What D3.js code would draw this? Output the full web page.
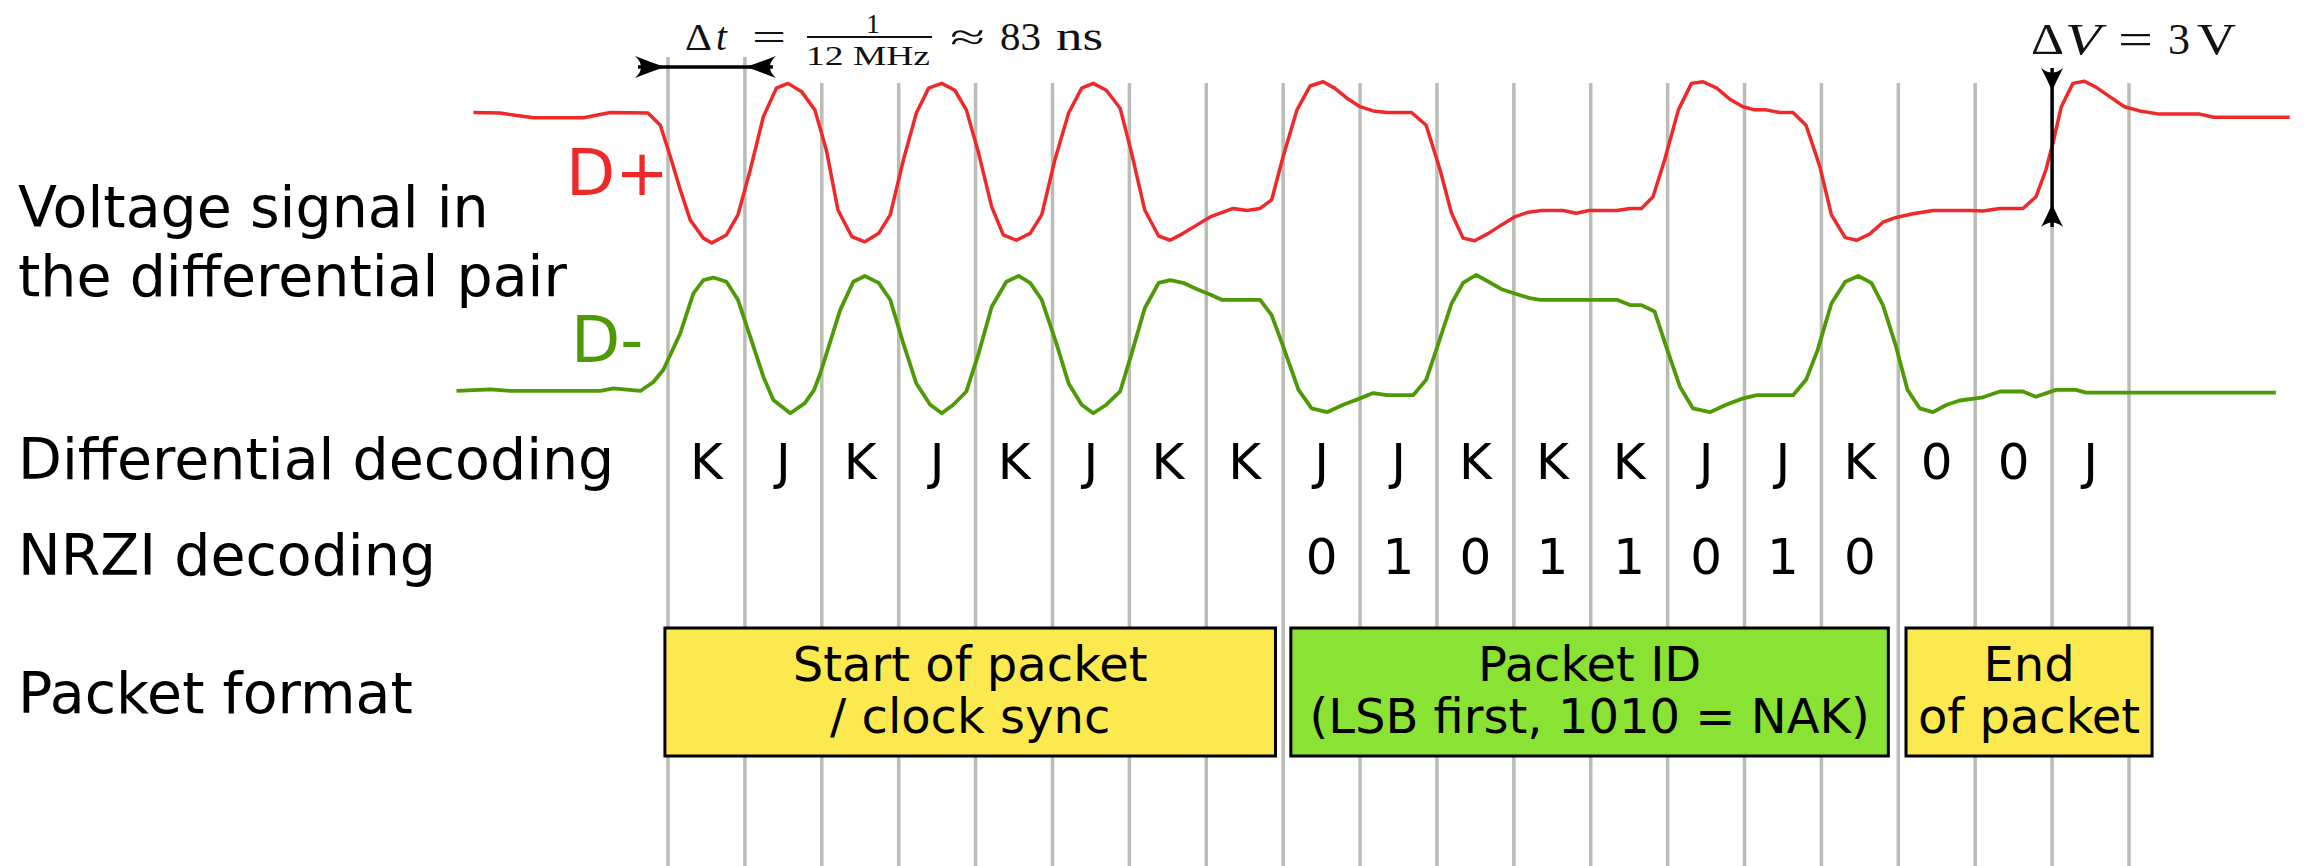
<!DOCTYPE html>
<html>
<head>
<meta charset="utf-8">
<script src="https://cdn.jsdelivr.net/npm/d3@7"></script>
<style>
  body { margin: 0; background: #fff; }
  text { font-family: "DejaVu Sans", sans-serif; }
  .tex text { font-family: "Liberation Serif", "DejaVu Serif", serif; }
</style>
</head>
<body>
<svg id="chart"></svg>
<script>
// ---- data (time in bit periods, voltage in volts) ----
var bitSymbols = ["K","J","K","J","K","J","K","K","J","J","K","K","K","J","J","K","0","0","J"];
var nrziFirstBit = 8;
var nrziBits = ["0","1","0","1","1","0","1","0"];

var fieldNames = ["Start of packet\n/ clock sync", "Packet ID\n(LSB first, 1010 = NAK)", "End\nof packet"];
var fieldFrom = [-0.04, 8.1, 16.1];
var fieldTo = [7.9, 15.87, 19.3];

var dplusTime = [-2.53,-2.18,-1.75,-1.10,-0.75,-0.26,-0.10,0.03,0.16,0.29,0.46,0.57,0.76,0.91,1.07,1.24,1.41,1.56,1.74,1.91,
  2.06,2.21,2.39,2.56,2.74,2.89,3.06,3.23,3.39,3.56,3.73,3.88,4.04,4.21,4.36,4.53,4.71,4.86,5.03,5.21,5.38,5.53,5.70,5.88,
  6.03,6.20,6.38,6.53,6.70,6.88,7.05,7.35,7.53,7.70,7.85,8.00,8.18,8.35,8.52,8.67,8.83,9.00,9.17,9.35,9.67,9.86,
  10.04,10.19,10.34,10.49,10.67,10.84,11.01,11.19,11.36,11.64,11.81,11.98,12.34,12.51,12.66,12.81,12.96,13.14,13.31,13.46,
  13.64,13.81,13.98,14.13,14.28,14.46,14.63,14.80,14.98,15.13,15.31,15.46,15.63,15.80,15.97,16.19,16.45,16.93,17.10,17.32,
  17.62,17.79,17.92,18.01,18.12,18.27,18.42,18.57,18.74,18.94,19.14,19.40,19.92,20.10,21.09];
var dplusVolt = [2.16,2.15,2.06,2.06,2.16,2.15,1.92,1.33,0.70,0.13,-0.21,-0.30,-0.15,0.23,1.08,2.08,2.62,2.71,2.55,2.21,
  1.45,0.32,-0.18,-0.28,-0.12,0.23,1.26,2.15,2.62,2.71,2.58,2.21,1.39,0.38,-0.15,-0.25,-0.12,0.23,1.26,2.15,2.62,2.71,2.58,2.24,
  1.39,0.32,-0.17,-0.25,-0.12,0.04,0.19,0.35,0.31,0.35,0.51,1.33,2.21,2.66,2.74,2.62,2.43,2.27,2.19,2.16,2.16,1.92,
  1.08,0.26,-0.21,-0.26,-0.12,0.04,0.19,0.28,0.31,0.31,0.26,0.31,0.31,0.35,0.35,0.57,1.26,2.21,2.71,2.74,
  2.62,2.41,2.27,2.21,2.21,2.16,2.16,1.92,1.14,0.23,-0.20,-0.25,-0.13,0.09,0.18,0.25,0.31,0.31,0.30,0.35,
  0.35,0.57,1.08,1.58,2.27,2.71,2.75,2.64,2.47,2.27,2.19,2.13,2.13,2.07,2.07];

var dminusTime = [-2.75,-2.31,-2.05,-0.88,-0.71,-0.36,-0.19,-0.06,0.16,0.33,0.46,0.59,0.76,0.91,1.07,1.24,1.37,1.59,1.78,1.90,
  1.98,2.24,2.41,2.56,2.74,2.89,3.06,3.23,3.41,3.56,3.71,3.88,4.04,4.21,4.40,4.56,4.71,4.86,5.05,5.21,5.38,5.53,5.70,5.88,
  6.03,6.20,6.38,6.53,6.70,6.88,7.05,7.20,7.70,7.85,8.00,8.20,8.37,8.57,8.78,9.00,9.17,9.35,9.69,9.86,
  10.02,10.19,10.34,10.51,10.67,10.84,11.01,11.21,11.34,12.34,12.51,12.66,12.83,12.98,13.16,13.33,13.55,13.76,13.98,14.16,
  14.63,14.80,14.95,15.13,15.31,15.48,15.65,15.80,15.97,16.12,16.28,16.45,16.63,16.80,17.10,17.32,17.62,17.79,18.05,18.31,
  18.44,20.91];
var dminusVolt = [0.68,0.71,0.68,0.68,0.73,0.68,0.85,1.08,1.77,2.52,2.77,2.82,2.74,2.40,1.70,0.95,0.51,0.26,0.45,0.70,
  1.01,2.21,2.74,2.85,2.72,2.40,1.58,0.82,0.42,0.26,0.42,0.67,1.39,2.27,2.74,2.85,2.72,2.40,1.58,0.82,0.42,0.26,0.42,0.67,
  1.39,2.24,2.72,2.77,2.72,2.60,2.50,2.40,2.40,2.11,1.52,0.70,0.35,0.28,0.42,0.54,0.64,0.60,0.60,0.89,
  1.58,2.33,2.72,2.87,2.74,2.60,2.52,2.43,2.40,2.40,2.30,2.30,2.18,1.52,0.76,0.35,0.28,0.42,0.54,0.60,
  0.60,0.89,1.45,2.33,2.74,2.85,2.72,2.30,1.52,0.70,0.35,0.28,0.42,0.50,0.56,0.67,0.67,0.57,0.70,0.70,
  0.65,0.65];

var deltaV = 3;

// ---- drawing ----
var W = 2305, H = 866;
var red = "#ef2929", green = "#4e9a06", grid = "#babdb6";

var svg = d3.select("#chart").attr("width", W).attr("height", H);
svg.append("rect").attr("width", W).attr("height", H).attr("fill", "#fff");

var x = d3.scaleLinear().domain([0, 19]).range([668, 2129]);
var yPlus = d3.scaleLinear().domain([0, 3]).range([227, 68]);
var yMinus = d3.scaleLinear().domain([0, 3]).range([427, 268]);

/* bit boundaries */
svg.append("g").selectAll("line")
  .data(d3.range(20))
  .enter().append("line")
  .attr("x1", function(d) { return x(d); })
  .attr("x2", function(d) { return x(d); })
  .attr("y1", function(d) { return d < 2 ? 57 : 83; })
  .attr("y2", H)
  .attr("stroke", grid)
  .attr("stroke-width", 3.5);

/* the two traces */
var linePlus = d3.line()
  .x(function(d, i) { return x(dplusTime[i]); })
  .y(function(d) { return yPlus(d); });
var lineMinus = d3.line()
  .x(function(d, i) { return x(dminusTime[i]); })
  .y(function(d) { return yMinus(d); });

svg.append("path").attr("d", linePlus(dplusVolt))
  .attr("fill", "none").attr("stroke", red).attr("stroke-width", 3.5).attr("stroke-linejoin", "round");
svg.append("path").attr("d", lineMinus(dminusVolt))
  .attr("fill", "none").attr("stroke", green).attr("stroke-width", 3.8).attr("stroke-linejoin", "round");

svg.append("text").attr("x", 566).attr("y", 195).attr("font-size", 64).attr("fill", red).text("D+");
svg.append("text").attr("x", 571).attr("y", 362).attr("font-size", 64).attr("fill", green).text("D-");

/* row labels on the left */
var rows = [
  { lines: ["Voltage signal in", "the differential pair"], y: 227 },
  { lines: ["Differential decoding"], y: 479 },
  { lines: ["NRZI decoding"], y: 575 },
  { lines: ["Packet format"], y: 713 }
];
rows.forEach(function(r) {
  var t = svg.append("text").attr("x", 18).attr("y", r.y).attr("font-size", 57);
  r.lines.forEach(function(s, i) {
    t.append("tspan").attr("x", 18).attr("dy", i == 0 ? 0 : 69).text(s);
  });
});

/* decoded symbols */
svg.append("g").selectAll("text")
  .data(bitSymbols)
  .enter().append("text")
  .attr("x", function(d, i) { return x(i + 0.5); })
  .attr("y", 479)
  .attr("text-anchor", "middle")
  .attr("font-size", 50)
  .text(function(d) { return d; });

svg.append("g").selectAll("text")
  .data(nrziBits)
  .enter().append("text")
  .attr("x", function(d, i) { return x(nrziFirstBit + i + 0.5); })
  .attr("y", 574)
  .attr("text-anchor", "middle")
  .attr("font-size", 50)
  .text(function(d) { return d; });

/* packet fields */
var fieldFill = ["#fce94f", "#8ae234", "#fce94f"];
var fields = svg.append("g").selectAll("g")
  .data(fieldNames)
  .enter().append("g");
fields.append("rect")
  .attr("x", function(d, i) { return x(fieldFrom[i]); })
  .attr("y", 628)
  .attr("width", function(d, i) { return x(fieldTo[i]) - x(fieldFrom[i]); })
  .attr("height", 128)
  .attr("fill", function(d, i) { return fieldFill[i]; })
  .attr("stroke", "#000")
  .attr("stroke-width", 3);
fields.each(function(d, i) {
  var cx = (x(fieldFrom[i]) + x(fieldTo[i])) / 2;
  var t = d3.select(this).append("text")
    .attr("x", cx).attr("y", 681)
    .attr("text-anchor", "middle").attr("font-size", 48);
  d.split("\n").forEach(function(s, j) {
    t.append("tspan").attr("x", cx).attr("dy", j == 0 ? 0 : 52).text(s);
  });
});

/* arrowheads with concave sides; (dx,dy) points from tip to the wide end */
function head(tx, ty, dx, dy, len, half) {
  var nx = -dy, ny = dx;
  var bx = tx + dx * len, by = ty + dy * len;
  var p = d3.path();
  p.moveTo(tx, ty);
  p.quadraticCurveTo(tx + dx * len * 0.5 + nx * half * 0.45, ty + dy * len * 0.5 + ny * half * 0.45, bx + nx * half, by + ny * half);
  p.quadraticCurveTo(bx - dx * len * 0.4, by - dy * len * 0.4, bx - nx * half, by - ny * half);
  p.quadraticCurveTo(tx + dx * len * 0.5 - nx * half * 0.45, ty + dy * len * 0.5 - ny * half * 0.45, tx, ty);
  p.closePath();
  return p.toString();
}

// time step annotation
var ay = 67;
svg.append("line").attr("x1", x(0) - 30).attr("x2", x(1) + 28).attr("y1", ay).attr("y2", ay)
  .attr("stroke", "#000").attr("stroke-width", 3.4);
svg.append("path").attr("d", head(x(0) - 3, ay, -1, 0, 30, 11));
svg.append("path").attr("d", head(x(1) + 1, ay, 1, 0, 30, 11));

// TeX-like pieces placed one by one
var tex = svg.append("g").attr("class", "tex").attr("fill", "#111");
function piece(s, left, base, size, width, italic) {
  var t = tex.append("text").attr("x", left).attr("y", base).attr("font-size", size).text(s);
  if (width) t.attr("textLength", width).attr("lengthAdjust", "spacingAndGlyphs");
  if (italic) t.attr("font-style", "italic");
  return t;
}
piece("\u0394", 685, 50, 38, 27);
piece("t", 716, 50, 39, 0, true);
piece("=", 752, 50, 38, 34);
piece("1", 866, 33, 28, 14);
tex.append("line").attr("x1", 807).attr("x2", 932).attr("y1", 37).attr("y2", 37).attr("stroke", "#111").attr("stroke-width", 1.8);
piece("12 MHz", 806, 65, 28, 124);
piece("\u2248", 950, 50, 38, 35);
piece("83", 1000, 50, 39, 41);
piece("ns", 1056, 50, 40, 47);

// voltage swing annotation
var vx = x(18);
svg.append("line").attr("x1", vx).attr("x2", vx).attr("y1", yPlus(deltaV)).attr("y2", yPlus(0))
  .attr("stroke", "#000").attr("stroke-width", 3.4);
svg.append("path").attr("d", head(vx, yPlus(deltaV) + 23, 0, -1, 23, 11));
svg.append("path").attr("d", head(vx, yPlus(0) - 23, 0, 1, 23, 11));

piece("\u0394", 2031, 54, 45, 33);
piece("V", 2065, 54, 45, 36, true);
piece("=", 2118, 54, 45, 35);
piece(String(deltaV), 2168, 54, 45, 22);
piece("V", 2197, 54, 45, 39);
</script>
</body>
</html>
